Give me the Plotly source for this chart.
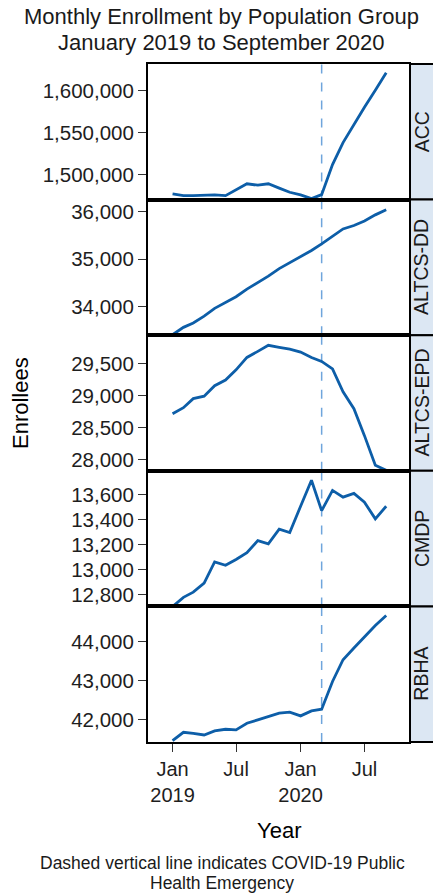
import plotly.graph_objects as go
from plotly.subplots import make_subplots

# Monthly observation dates (first of month), Jan 2019 - Sep 2020
months = [
    "2019-01-01", "2019-02-01", "2019-03-01", "2019-04-01", "2019-05-01", "2019-06-01",
    "2019-07-01", "2019-08-01", "2019-09-01", "2019-10-01", "2019-11-01", "2019-12-01",
    "2020-01-01", "2020-02-01", "2020-03-01", "2020-04-01", "2020-05-01", "2020-06-01",
    "2020-07-01", "2020-08-01", "2020-09-01",
]

groups = ["ACC", "ALTCS-DD", "ALTCS-EPD", "CMDP", "RBHA"]

acc = [1477600, 1475600, 1475600, 1476000, 1476400, 1475600, 1482400, 1489600, 1487900,
       1489600, 1484400, 1479600, 1476400, 1472000, 1476800, 1512300, 1538200, 1560200,
       1580000, 1600000, 1620700]
altcs_dd = [33410, 33565, 33657, 33800, 33964, 34086, 34208, 34370, 34500, 34642, 34800,
            34920, 35050, 35180, 35320, 35477, 35634, 35706, 35800, 35929, 36036]
altcs_epd = [28716, 28811, 28954, 28992, 29156, 29246, 29405, 29600, 29695, 29790, 29759,
             29732, 29684, 29600, 29537, 29420, 29060, 28795, 28373, 27907, 27828]
cmdp = [12707, 12781, 12822, 12894, 13063, 13036, 13082, 13136, 13233, 13206, 13323,
        13297, 13506, 13713, 13471, 13632, 13578, 13608, 13538, 13406, 13506]
rbha = [41467, 41683, 41657, 41614, 41717, 41760, 41743, 41914, 42000, 42086, 42172,
        42197, 42103, 42232, 42274, 42985, 43543, 43844, 44127, 44418, 44676]

series = [acc, altcs_dd, altcs_epd, cmdp, rbha]

# y-axis ticks and ranges per panel
y_ticks = [
    [1500000, 1550000, 1600000],
    [34000, 35000, 36000],
    [28000, 28500, 29000, 29500],
    [12800, 13000, 13200, 13400, 13600],
    [42000, 43000, 44000],
]
y_ranges = [
    [1470900, 1631100],
    [33400, 36250],
    [27821, 29949],
    [12709, 13788],
    [41434, 44909],
]

x_tickvals = ["2019-01-01", "2019-07-01", "2020-01-01", "2020-07-01"]
x_ticktext = ["Jan<br>2019", "Jul", "Jan<br>2020", "Jul"]
x_range = ["2018-10-23", "2020-11-05"]
phe_date = "2020-03-01"

title_lines = ["Monthly Enrollment by Population Group", "January 2019 to September 2020"]
caption_lines = ["Dashed vertical line indicates COVID-19 Public", "Health Emergency"]

FONT = "Arial, Liberation Sans, Helvetica, sans-serif"
LINE_COLOR = "#0d5ea8"
STRIP_FILL = "#dce7f3"
DASH_COLOR = "#6fa5dc"

# plot area in pixels: left 148, right 409, top 64, bottom 742
PW, PH, PL, PB = 261, 678, 148, 742


def px_x(x):
    return (x - PL) / PW


def px_y(y):
    return (PB - y) / PH


fig = make_subplots(rows=5, cols=1, shared_xaxes=True, vertical_spacing=0)

for i, (name, vals) in enumerate(zip(groups, series), start=1):
    fig.add_trace(
        go.Scatter(x=months, y=vals, mode="lines", name=name,
                   line=dict(color=LINE_COLOR, width=2.8), showlegend=False),
        row=i, col=1,
    )
    fig.update_yaxes(
        row=i, col=1,
        range=y_ranges[i - 1], tickvals=y_ticks[i - 1], tickformat=",d",
        showgrid=False, zeroline=False,
        showline=True, mirror=True, linecolor="black", linewidth=2,
        ticks="outside", ticklen=8, tickcolor="#333333", tickwidth=1.2,
        tickfont=dict(family=FONT, size=20.5, color="#1e1e1e"),
    )
    fig.update_xaxes(
        row=i, col=1,
        type="date", range=x_range, tickvals=x_tickvals, ticktext=x_ticktext,
        showgrid=False, zeroline=False,
        showline=True, mirror=True, linecolor="black", linewidth=2,
        ticks="outside" if i == 5 else "", ticklen=8, tickcolor="#333333", tickwidth=1.2,
        showticklabels=(i == 5),
        tickfont=dict(family=FONT, size=20, color="#1e1e1e"),
    )

    yref = "y domain" if i == 1 else f"y{i} domain"
    xref = "x" if i == 1 else f"x{i}"

    # COVID-19 public health emergency marker
    fig.add_shape(type="line", xref=xref, yref=yref, x0=phe_date, x1=phe_date, y0=0, y1=1,
                  line=dict(color=DASH_COLOR, width=1.5, dash="dash"), layer="below")

    # facet strip on the right
    fig.add_shape(type="rect", xref="paper", yref=yref,
                  x0=px_x(410), x1=px_x(442), y0=0, y1=1,
                  fillcolor=STRIP_FILL, line=dict(color="black", width=2), layer="above")
    fig.add_annotation(xref="paper", yref=yref, x=px_x(421.5), y=0.5,
                       text=name, textangle=-90, showarrow=False,
                       xanchor="center", yanchor="middle",
                       font=dict(family=FONT, size=19.5, color="#1a1a1a"))

# two-line title
for text, ypx in zip(title_lines, [16.5, 42]):
    fig.add_annotation(xref="paper", yref="paper", x=px_x(221.5), y=px_y(ypx),
                       text=text, showarrow=False, xanchor="center", yanchor="middle",
                       font=dict(family=FONT, size=22, color="#1a1a1a"))

# axis titles
fig.add_annotation(xref="paper", yref="paper", x=px_x(20), y=0.5, text="Enrollees",
                   textangle=-90, showarrow=False, xanchor="center", yanchor="middle",
                   font=dict(family=FONT, size=22, color="black"))
fig.add_annotation(xref="paper", yref="paper", x=0.5, y=px_y(830), text="Year",
                   showarrow=False, xanchor="center", yanchor="middle",
                   font=dict(family=FONT, size=22, color="black"))

# caption, one annotation per line
for text, ypx in zip(caption_lines, [863, 883]):
    fig.add_annotation(xref="paper", yref="paper", x=px_x(222), y=px_y(ypx),
                       text=text, showarrow=False, xanchor="center", yanchor="middle",
                       font=dict(family=FONT, size=17.5, color="#1a1a1a"))

fig.update_layout(
    width=433, height=895,
    margin=dict(l=148, r=24, t=64, b=153),
    paper_bgcolor="white", plot_bgcolor="white",
    showlegend=False,
)

fig.write_html("out.html")
